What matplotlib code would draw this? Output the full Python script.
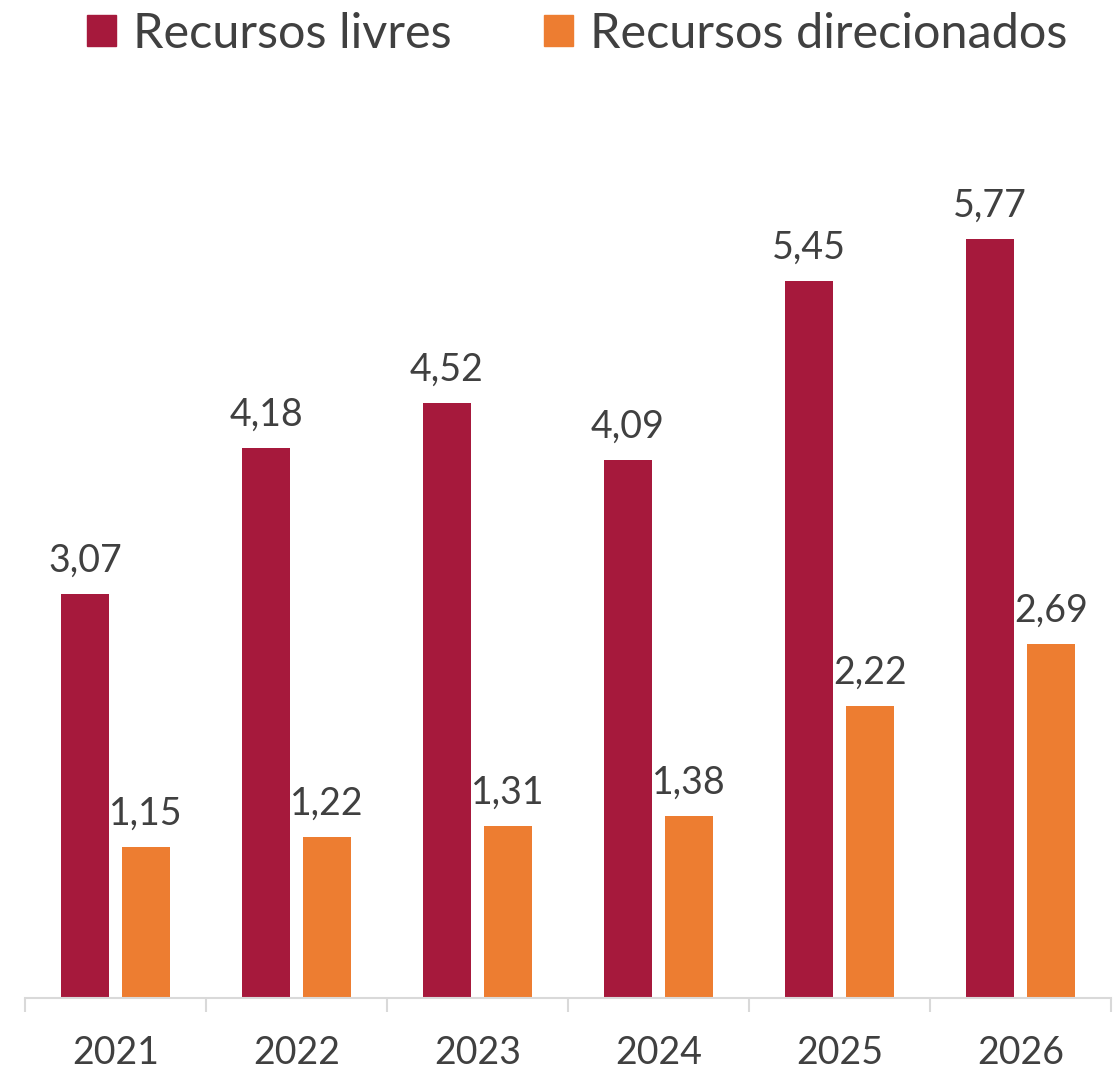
import numpy as np
import matplotlib
matplotlib.use("Agg")
import matplotlib.pyplot as plt
from matplotlib.patches import Patch

anos = ["2021", "2022", "2023", "2024", "2025", "2026"]
livres = [3.07, 4.18, 4.52, 4.09, 5.45, 5.77]
direcionados = [1.15, 1.22, 1.31, 1.38, 2.22, 2.69]

COR_LIVRES = "#A6193C"
COR_DIREC = "#ED7D31"
COR_TEXTO = "#404040"
COR_EIXO = "#D9D9D9"
LARGURA = 0.265
DESLOC = 0.168

plt.rcParams["font.family"] = ["Lato", "DejaVu Sans"]

fig = plt.figure(figsize=(11.19, 10.74), dpi=100)
ax = fig.add_axes([0.0223, 0.0708, 0.9705, 0.784])

x = np.arange(len(anos))
b1 = ax.bar(x - DESLOC, livres, LARGURA, color=COR_LIVRES)
b2 = ax.bar(x + DESLOC, direcionados, LARGURA, color=COR_DIREC)

# rotulos com virgula decimal
for barras in (b1, b2):
    for r in barras:
        v = r.get_height()
        ax.annotate(f"{v:.2f}".replace(".", ","),
                    (r.get_x() + r.get_width() / 2, v),
                    xytext=(0, 11), textcoords="offset points",
                    ha="center", va="bottom", fontsize=27, color=COR_TEXTO)

ax.set_xlim(-0.5, len(anos) - 0.5)
ax.set_ylim(0, 6.4)
ax.set_yticks([])
ax.set_xticks(x)
ax.set_xticklabels(anos, fontsize=27, color=COR_TEXTO)
ax.set_xticks(np.arange(-0.5, len(anos)), minor=True)
ax.tick_params(axis="x", which="major", length=0, pad=27)
ax.tick_params(axis="x", which="minor", length=10, width=1.5, color=COR_EIXO)

for lado in ("top", "right", "left"):
    ax.spines[lado].set_visible(False)
ax.spines["bottom"].set_color(COR_EIXO)
ax.spines["bottom"].set_linewidth(1.5)

handles = [Patch(color=COR_LIVRES, label="Recursos livres"),
           Patch(color=COR_DIREC, label="Recursos direcionados")]
leg = fig.legend(handles=handles, loc="upper center", bbox_to_anchor=(0.516, 1.03),
                 ncol=2, frameon=False, fontsize=35, handlelength=0.6,
                 handleheight=0.6, handletextpad=0.35, columnspacing=1.9)
for t in leg.get_texts():
    t.set_color(COR_TEXTO)

fig.savefig("out.png", dpi=100)
